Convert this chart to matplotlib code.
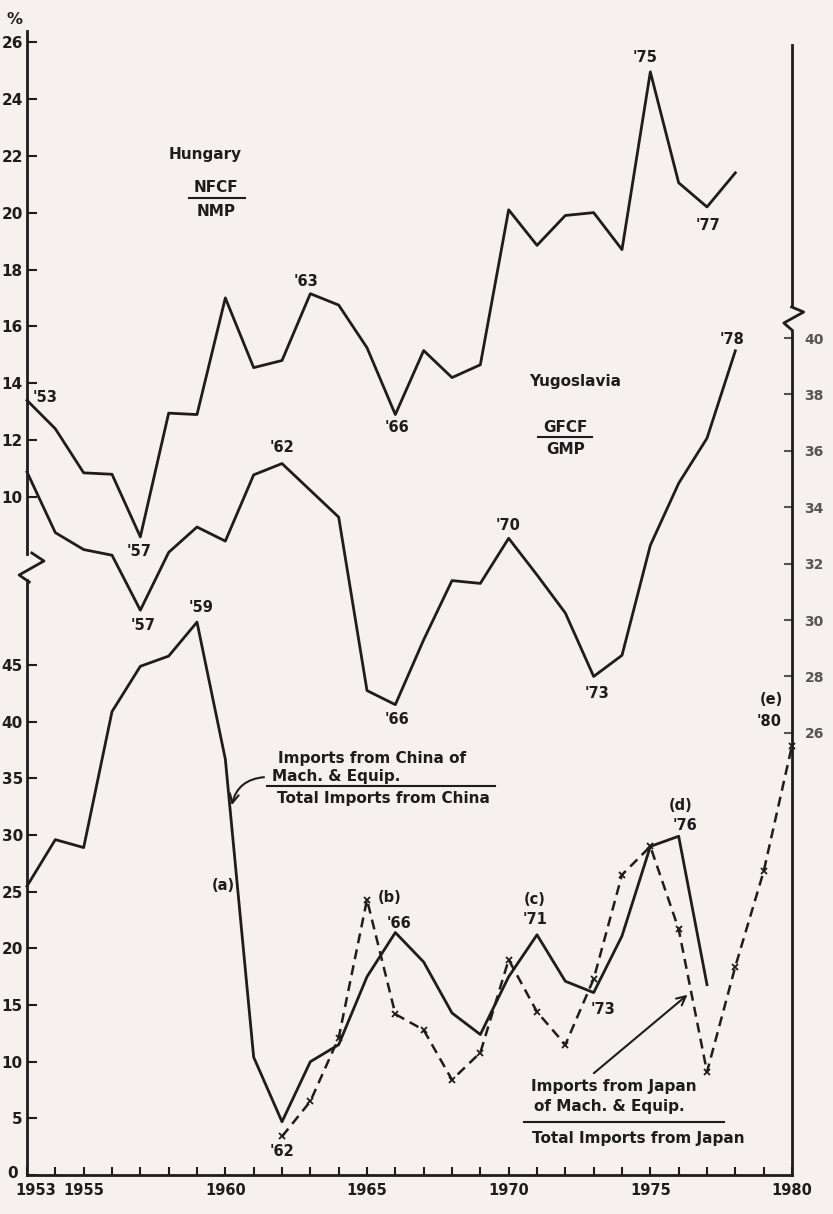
import matplotlib
matplotlib.use("Agg")
import matplotlib.pyplot as plt
from matplotlib.lines import Line2D
from matplotlib.patches import FancyArrowPatch
from matplotlib.transforms import ScaledTranslation

# ---- data ----
years_hu = list(range(1953, 1979))
hungary_nfcf_nmp = [13.4, 12.4, 10.85, 10.8, 8.6, 12.95, 12.9, 17.0, 14.55, 14.8,
                    17.15, 16.75, 15.25, 12.9, 15.15, 14.2, 14.65, 20.1, 18.85, 19.9,
                    20.0, 18.7, 24.95, 21.05, 20.2, 21.4]

years_yu = list(range(1953, 1979))
yugoslavia_gfcf_gmp = [35.25, 33.1, 32.5, 32.3, 30.35, 32.4, 33.3, 32.8, 35.15, 35.55,
                       34.6, 33.65, 27.5, 27.0, 29.3, 31.4, 31.3, 32.9, 31.6, 30.25,
                       28.0, 28.75, 32.65, 34.85, 36.45, 39.55]

years_cn = list(range(1953, 1978))
china_mach_share = [25.5, 29.6, 28.9, 40.9, 44.9, 45.8, 48.8, 36.7, 10.4, 4.7,
                    10.0, 11.5, 17.5, 21.4, 18.8, 14.3, 12.4, 17.5, 21.2, 17.1,
                    16.1, 21.1, 29.0, 29.9, 16.8]

years_jp = list(range(1962, 1981))
japan_mach_share = [3.4, 6.5, 12.1, 24.3, 14.2, 12.8, 8.4, 10.8, 19.0, 14.4,
                    11.5, 17.3, 26.5, 29.0, 21.7, 9.1, 18.4, 26.8, 37.9]

hu_ticks = list(range(10, 27, 2))
imp_ticks = list(range(0, 46, 5))
yu_ticks = list(range(26, 41, 2))
year_ticks = list(range(1953, 1981))
labelled_years = [1953, 1955, 1960, 1965, 1970, 1975, 1980]

W, H = 833, 1214
ink = "#1d1d1d"
paper = "#f6f0ee"

plt.rcParams["font.family"] = ["DejaVu Sans"]
plt.rcParams["font.weight"] = "bold"

fig = plt.figure(figsize=(W / 100, H / 100), dpi=100, facecolor=paper)
rect = [27 / W, 1 - 1175 / H, (792 - 27) / W, (1175 - 42) / H]

ax_c = fig.add_axes(rect)                 # imports shares (lower scale)
ax_h = fig.add_axes(rect, sharex=ax_c)    # Hungary (upper left scale)
ax_y = fig.add_axes(rect, sharex=ax_c)    # Yugoslavia (right scale)
ax_c.set_facecolor(paper)
for a in (ax_h, ax_y):
    a.patch.set_visible(False)

ax_c.set_xlim(1953, 1980)
ax_c.set_ylim(0, 100)
ax_h.set_ylim(-13.84, 26)
ax_y.set_ylim(10.32, 50.5)

# spines
for a in (ax_c, ax_h, ax_y):
    for s in a.spines.values():
        s.set_linewidth(2)
        s.set_color(ink)
ax_c.spines["top"].set_visible(False)
ax_c.spines["right"].set_visible(False)
ax_c.spines["left"].set_bounds(0, 52.5)
ax_h.spines["top"].set_visible(False)
ax_h.spines["bottom"].set_visible(False)
ax_h.spines["left"].set_bounds(8.0, 26.4)
ax_h.spines["right"].set_bounds(16.7, 25.9)
for s in ("top", "bottom", "left"):
    ax_y.spines[s].set_visible(False)
ax_y.spines["right"].set_bounds(10.32, 40.25)

# ticks
ax_c.set_xticks(year_ticks)
ax_c.set_xticklabels([str(y) if y in labelled_years else "" for y in year_ticks])
ax_c.tick_params(axis="x", direction="in", length=6, width=1.5, pad=6,
                 labelsize=10.5, colors=ink)
ax_c.set_yticks(imp_ticks)
ax_c.tick_params(axis="y", direction="in", length=7, width=1.5, pad=3,
                 labelsize=11, colors=ink)
# nudge the corner labels apart, as on the original
ax_c.get_xticklabels()[0].set_transform(
    ax_c.get_xticklabels()[0].get_transform()
    + ScaledTranslation(9 / 100, 0, fig.dpi_scale_trans))
ax_c.get_yticklabels()[0].set_transform(
    ax_c.get_yticklabels()[0].get_transform()
    + ScaledTranslation(-5 / 100, 3 / 100, fig.dpi_scale_trans))

ax_h.set_yticks(hu_ticks)
ax_h.tick_params(axis="y", direction="in", length=7, width=1.5, pad=3,
                 labelsize=11, colors=ink)
ax_h.tick_params(axis="x", bottom=False, labelbottom=False)

ax_y.yaxis.tick_right()
ax_y.set_yticks(yu_ticks)
ax_y.tick_params(axis="y", direction="in", length=6, width=1.5, pad=9,
                 labelsize=10, colors="#555555")
ax_y.tick_params(axis="x", bottom=False, labelbottom=False)

# series
ax_h.plot(years_hu, hungary_nfcf_nmp, color=ink, lw=2, clip_on=False)
ax_y.plot(years_yu, yugoslavia_gfcf_gmp, color=ink, lw=2, clip_on=False)
ax_c.plot(years_cn, china_mach_share, color=ink, lw=2, clip_on=False)
ax_c.plot(years_jp, japan_mach_share, color=ink, lw=1.8, ls=(0, (4, 2.5)),
          marker="x", ms=5, mew=1.3, clip_on=False)


# ---- helpers working in (deskewed) scan pixels ----
def fx(x, y):
    return (x - 15 * (1175 - y) / 1145) / W


def fy(y):
    return 1 - y / H


def put(x, y, s, ha="center", size=10.5, **kw):
    fig.text(fx(x, y), fy(y), s, ha=ha, va="center", fontsize=size,
             color=ink, **kw)


def stroke(xs, ys, lw=1.6):
    fig.add_artist(Line2D([fx(x, y) for x, y in zip(xs, ys)], [fy(y) for y in ys],
                          transform=fig.transFigure, color=ink, lw=lw))


# axis breaks
stroke([40, 52, 27, 37], [553, 561, 575, 582], lw=2)
stroke([803, 815, 795, 803], [307, 312, 323, 330], lw=2)

put(30, 20, "%", size=11.5)

# Hungary
put(55, 397, "'53")
put(219, 155, "Hungary", size=11)
put(229, 187, "NFCF", size=11)
stroke([202, 258], [198, 198], lw=1.5)
put(229, 211, "NMP", size=11)
put(318, 282, "'63")
put(407, 428, "'66")
put(147, 552, "'57")
put(660, 58, "'75")
put(720, 225, "'77")

# Yugoslavia
put(292, 448, "'62")
put(150, 625, "'57")
put(403, 720, "'66")
put(743, 340, "'78")
put(585, 382, "Yugoslavia", size=11)
put(575, 427, "GFCF", size=11)
stroke([548, 602], [437, 437], lw=1.5)
put(575, 449, "GMP", size=11)
put(517, 525, "'70")
put(603, 693, "'73")

# China
put(208, 608, "'59")
put(283, 758, "Imports from China of", ha="left", size=11)
put(277, 777, "Mach. & Equip.", ha="left", size=11)
stroke([272, 500], [786, 786], lw=1.5)
put(282, 799, "Total Imports from China", ha="left", size=11)
fig.add_artist(FancyArrowPatch((fx(272, 777), fy(777)), (fx(236, 808), fy(808)),
                               transform=fig.transFigure, arrowstyle="->",
                               connectionstyle="arc3,rad=0.4", mutation_scale=16,
                               color=ink, lw=1.5))
put(227, 885, "(a)")
put(393, 897, "(b)")
put(402, 923, "'66")
put(538, 900, "(c)")
put(538, 920, "'71")
put(685, 805, "(d)")
put(690, 825, "'76")

# Japan
put(282, 1152, "'62")
put(605, 1010, "'73")
put(778, 700, "(e)")
put(775, 722, "'80")
put(532, 1087, "Imports from Japan", ha="left", size=11)
put(535, 1107, "of Mach. & Equip.", ha="left", size=11)
stroke([525, 725], [1122, 1122], lw=1.5)
put(532, 1138, "Total Imports from Japan", ha="left", size=11)
fig.add_artist(FancyArrowPatch((fx(593, 1075), fy(1075)), (fx(692, 993), fy(993)),
                               transform=fig.transFigure, arrowstyle="->",
                               mutation_scale=16, color=ink, lw=1.5))

fig.savefig("out.png", dpi=100, facecolor=paper)
